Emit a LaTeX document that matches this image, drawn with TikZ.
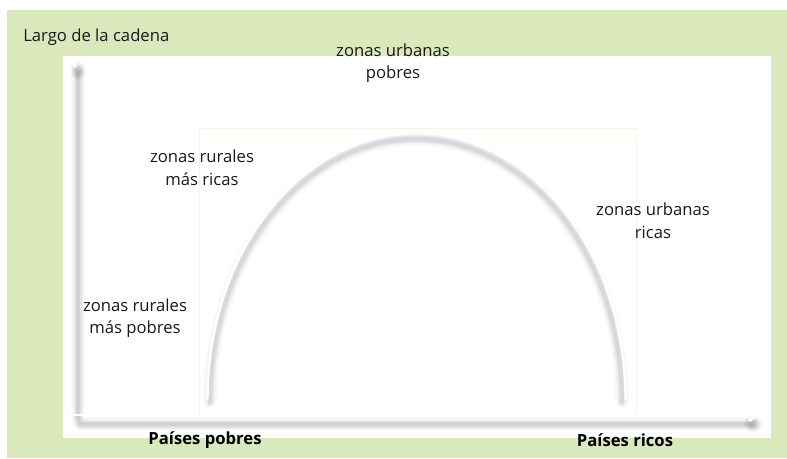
\documentclass[tikz,border=0pt]{standalone}
\usepackage{fontspec}
\usetikzlibrary{arrows.meta}
\setmainfont{Open Sans}
\definecolor{bggreen}{HTML}{DAE8BC}
\definecolor{faint}{HTML}{F4F4E4}
\tikzset{
  lbl/.style={align=center, font=\fontsize{12.5}{17}\selectfont, inner sep=0pt, text=black!90},
  axlbl/.style={font=\fontsize{12.5}{15}\selectfont\bfseries, inner sep=0pt},
  shad/.style={line cap=round, draw=black},
}
\begin{document}
\begin{tikzpicture}[x=0.75pt,y=-0.75pt]
\useasboundingbox (0,0) rectangle (787,458);
\fill[white] (0,0) rectangle (787,458);
\fill[bggreen] (7,10) rectangle (787,458);
\fill[white] (63,56) rectangle (771,438);
\draw[faint, line width=0.6pt] (199,128) rectangle (636,415);
% axis shadows
\foreach \w/\o in {14/0.025, 10/0.04, 7/0.05, 4/0.07} {
  \draw[shad, line width=\w*0.75pt, opacity=\o] (78,72) -- (78,418);
  \draw[shad, line width=\w*0.75pt, opacity=\o] (80,424) -- (752,424);
}
\foreach \w/\o in {16/0.04, 12/0.05, 8/0.07} {
  \draw[shad, line width=\w*0.75pt, opacity=\o] (78,70) -- (78,72);
  \draw[shad, line width=\w*0.75pt, opacity=\o] (752,424) -- (754,424);
}
% axes
\coordinate (o) at (70,415);
\coordinate (ytop) at (70,58);
\coordinate (xend) at (758,415);
\draw[white, line width=2.2pt, -{Straight Barb[length=5pt,width=9pt]}] (o) -- (ytop);
\draw[white, line width=2.2pt, -{Straight Barb[length=5pt,width=9pt]}] (o) -- (xend);
% arc shadow
\foreach \w/\o in {14/0.02, 10/0.035, 7/0.045, 4/0.06} {
  \draw[shad, line width=\w*0.75pt, opacity=\o] (210,402) arc[start angle=180, end angle=360, x radius=206, y radius=263];
}
% arc highlight
\coordinate (al) at (207.5,399);
\draw[white, line width=1.8pt, line cap=round] (al) arc[start angle=180, end angle=360, x radius=209, y radius=266];
% labels
\node[lbl, anchor=west] (title) at (23,37) {Largo de la cadena};
\node[lbl] (zup) at (393,63) {zonas urbanas\\pobres};
\node[lbl] (zrr) at (202,168) {zonas rurales\\más ricas};
\node[lbl] (zur) at (653,221) {zonas urbanas\\ricas};
\node[lbl] (zrp) at (135,318) {zonas rurales\\más pobres};
\node[axlbl] (pp) at (205,440) {Países pobres};
\node[axlbl] (pr) at (625,440) {Países ricos};
\end{tikzpicture}
\end{document}
